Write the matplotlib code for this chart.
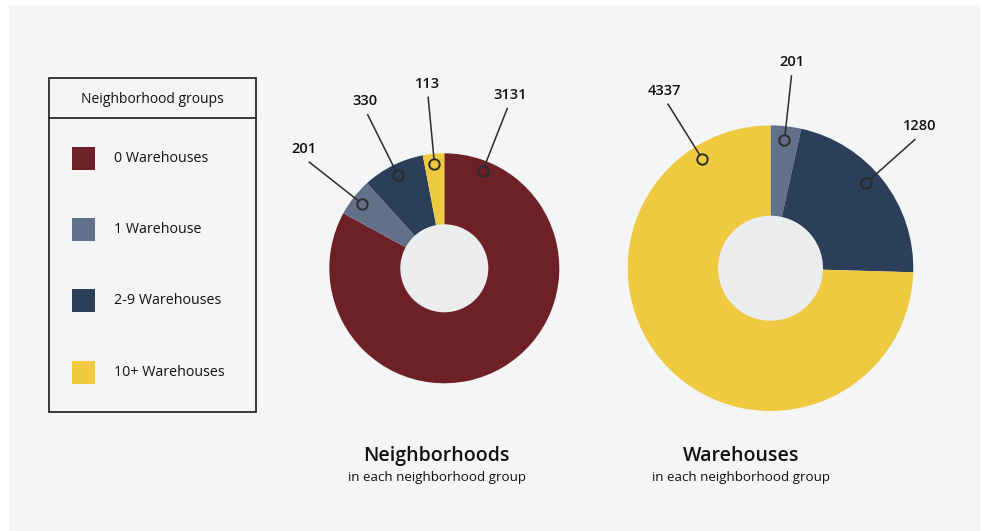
import numpy as np
import matplotlib.pyplot as plt
from matplotlib.patches import Rectangle, Circle

plt.rcParams['font.family'] = ['Open Sans', 'DejaVu Sans']

# Data
groups = ['0 Warehouses', '1 Warehouse', '2-9 Warehouses', '10+ Warehouses']
colors = ['#6d2126', '#627089', '#2c3f58', '#efc940']
neighborhoods = [3131, 201, 330, 113]
warehouses = [0, 201, 1280, 4337]

W, H = 981, 531
fig = plt.figure(figsize=(W / 100, H / 100), dpi=100, facecolor='white')
ax = fig.add_axes([0, 0, 1, 1])

ink = '#2b2b2b'


def img(x, y):
    # image-pixel coords (y down) -> data coords (y up)
    return x, H - y


def donut(values, cx, cy, R, hole, pin_r, line_r, pin_override):
    cx, cy = img(cx, cy)
    keep = [i for i, v in enumerate(values) if v > 0]
    vals = [values[i] for i in keep]
    cols = [colors[i] for i in keep]
    wedges, _ = ax.pie(vals, colors=cols, startangle=90, counterclock=False,
                       center=(cx, cy), radius=R,
                       wedgeprops=dict(linewidth=0))
    ax.add_patch(Circle((cx, cy), hole, facecolor='#ecedef', edgecolor='none', zorder=3))
    for k, (w, v) in enumerate(zip(wedges, vals)):
        mid = np.deg2rad((w.theta1 + w.theta2) / 2)
        a = np.deg2rad(pin_override[k]) if k in pin_override else mid
        ux, uy = np.cos(a), np.sin(a)
        px, py = cx + pin_r * R * ux, cy + pin_r * R * uy
        ax.plot(px, py, 'o', ms=7.5, mfc='none', mec=ink, mew=1.4, zorder=5)
        lx, ly = cx + line_r * R * ux, cy + line_r * R * uy
        ax.plot([px + 5 * ux, lx], [py + 5 * uy, ly], color=ink, lw=1.1, zorder=5,
                solid_capstyle='butt')
        ax.text(lx + 6 * ux, ly + 13, f'{v}', ha='center', va='center',
                fontsize=10.5, fontweight='semibold', color='#111111')


ax.add_patch(Rectangle(img(9, 531), 971, 526, facecolor='#f4f5f7', edgecolor='none', zorder=0))

# pie angles in matplotlib convention (deg, ccw from +x)
donut(neighborhoods, 444.3, 268.3, 115, 44, 0.91, 1.5, {0: 90 - 21.5})
donut(warehouses, 770.5, 268.2, 142.8, 52.5, 0.9, 1.36, {1: 90 - 48.3, 2: 90 + 32})

# Legend box
ax.add_patch(Rectangle(img(49, 412.3), 207, 334, facecolor='none', edgecolor=ink, lw=1.3, zorder=4))
ax.plot([49, 256], [H - 117.7, H - 117.7], color=ink, lw=1.3, zorder=4)
ax.text(*img(152.5, 99.5), 'Neighborhood groups', ha='center', va='center',
        fontsize=10, fontweight='medium', color='#111111')
for i, (g, c) in enumerate(zip(groups, colors)):
    yc = 158.7 + i * 71.1
    ax.add_patch(Rectangle(img(72, yc + 11.5), 23, 23, facecolor=c, edgecolor='none', zorder=4))
    ax.text(*img(114, yc), g, ha='left', va='center', fontsize=10.3,
            fontweight='medium', color='#111111')

# Titles
for x, t in [(436.7, 'Neighborhoods'), (741.3, 'Warehouses')]:
    ax.text(*img(x, 456), t, ha='center', va='center', fontsize=14,
            fontweight='semibold', color='#111111')
    ax.text(*img(x, 477), 'in each neighborhood group', ha='center', va='center',
            fontsize=9.6, fontweight='medium', color='#111111')

ax.set_xlim(0, W)
ax.set_ylim(0, H)
ax.set_aspect('auto')
ax.axis('off')

fig.savefig('out.png', dpi=100, facecolor='white')
